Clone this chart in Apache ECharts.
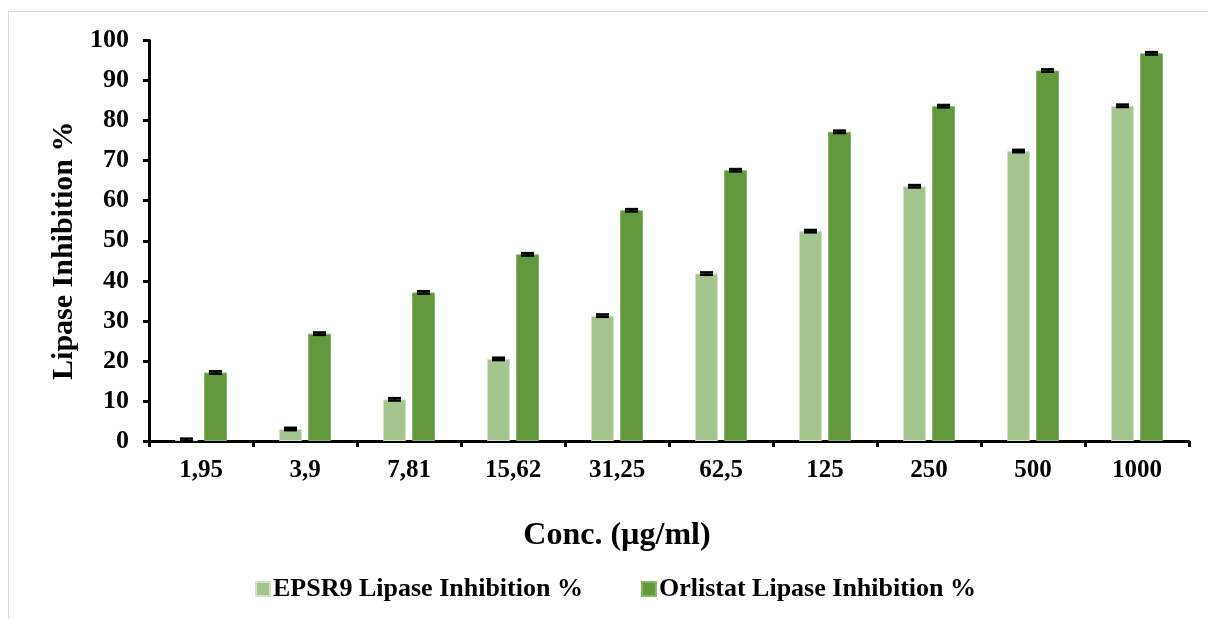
<!DOCTYPE html>
<html>
<head>
<meta charset="utf-8">
<script src="https://cdn.jsdelivr.net/npm/echarts@6/dist/echarts.min.js"></script>
<style>
html,body{margin:0;padding:0;background:#fff;}
#chart{width:1208px;height:619px;}
</style>
</head>
<body>
<div id="chart"></div>
<script>
const categories = ['1,95','3,9','7,81','15,62','31,25','62,5','125','250','500','1000'];
const epsr9 = [0.3, 3.0, 10.4, 20.5, 31.3, 41.8, 52.4, 63.6, 72.4, 83.7];
const epsr9Err = [0.3, 0.3, 0.3, 0.3, 0.3, 0.3, 0.3, 0.3, 0.3, 0.3];
const orlistat = [17.1, 26.8, 37.1, 46.6, 57.6, 67.6, 77.2, 83.6, 92.5, 96.8];
const orlistatErr = [0.3, 0.3, 0.3, 0.3, 0.3, 0.3, 0.3, 0.3, 0.3, 0.3];
const seriesNames = ['EPSR9 Lipase Inhibition %', 'Orlistat Lipase Inhibition %'];
const yTicks = {min: 0, max: 100, interval: 10};

const FONT = '"Liberation Serif", "Times New Roman", serif';
const BAR_W = 23, BAR_GAP = 6;
const colors = ['#A5C590', '#63993D'];

function errRender(offsetSign) {
  return function (params, api) {
    const idx = api.value(0), v = api.value(1), e = api.value(2);
    const off = offsetSign * (BAR_W + BAR_GAP) / 2;
    const top = api.coord([idx, v + e]);
    const bot = api.coord([idx, v - e]);
    const x = top[0] + off;
    const hw = 6.5;
    const st = {stroke: '#000', lineWidth: 2.5};
    return {
      type: 'group',
      children: [
        {type: 'line', shape: {x1: x, y1: top[1], x2: x, y2: bot[1]}, style: st},
        {type: 'line', shape: {x1: x - hw, y1: top[1], x2: x + hw, y2: top[1]}, style: st},
        {type: 'line', shape: {x1: x - hw, y1: bot[1], x2: x + hw, y2: bot[1]}, style: st}
      ]
    };
  };
}

const chart = echarts.init(document.getElementById('chart'), null, {renderer: 'canvas'});
chart.setOption({
  animation: false,
  backgroundColor: '#fff',
  textStyle: {fontFamily: FONT},
  graphic: [{
    type: 'rect', silent: true, z: -1,
    shape: {x: 8.5, y: 11.5, width: 1300, height: 700},
    style: {fill: 'none', stroke: '#d9d9d9', lineWidth: 1}
  }],
  grid: {left: 149, right: 19, top: 40.5, bottom: 178, containLabel: false},
  legend: {
    data: seriesNames,
    left: 250, top: 571,
    itemWidth: 14, itemHeight: 14, itemGap: 58,
    icon: 'rect',
    textStyle: {fontFamily: FONT, fontWeight: 'bold', fontSize: 26, color: '#000', padding: [0, 0, 0, -2]},
    selectedMode: false
  },
  xAxis: {
    type: 'category',
    data: categories,
    name: 'Conc. (µg/ml)',
    nameLocation: 'middle',
    nameGap: 79,
    nameTextStyle: {fontFamily: FONT, fontWeight: 'bold', fontSize: 32, color: '#000', padding: [0, 104, 0, 0]},
    axisLine: {lineStyle: {color: '#000', width: 3}},
    axisTick: {show: true, alignWithLabel: false, length: 6, lineStyle: {color: '#000', width: 3}},
    axisLabel: {fontFamily: FONT, fontWeight: 'bold', fontSize: 25, color: '#000', margin: 17, interval: 0},
    splitLine: {show: false}
  },
  yAxis: {
    type: 'value',
    min: yTicks.min, max: yTicks.max, interval: yTicks.interval,
    name: 'Lipase Inhibition %',
    nameLocation: 'middle',
    nameGap: 70,
    nameTextStyle: {fontFamily: FONT, fontWeight: 'bold', fontSize: 30, color: '#000', padding: [0, 20, 0, 0]},
    axisLine: {show: true, lineStyle: {color: '#000', width: 3}},
    axisTick: {show: true, length: 6, lineStyle: {color: '#000', width: 3}},
    axisLabel: {fontFamily: FONT, fontWeight: 'bold', fontSize: 26, color: '#000', margin: 20},
    splitLine: {show: false}
  },
  series: [
    {
      name: seriesNames[0], type: 'bar', data: epsr9,
      barWidth: BAR_W, barGap: (BAR_GAP / BAR_W * 100) + '%',
      itemStyle: {color: colors[0], borderColor: '#d3e3c7', borderWidth: 1}
    },
    {
      name: seriesNames[1], type: 'bar', data: orlistat,
      barWidth: BAR_W,
      itemStyle: {color: colors[1], borderColor: '#86b564', borderWidth: 1}
    },
    {
      type: 'custom', renderItem: errRender(-1), z: 10,
      data: epsr9.map((v, i) => [i, v, epsr9Err[i]]),
      encode: {x: 0, y: 1}
    },
    {
      type: 'custom', renderItem: errRender(1), z: 10,
      data: orlistat.map((v, i) => [i, v, orlistatErr[i]]),
      encode: {x: 0, y: 1}
    }
  ]
});
</script>
</body>
</html>
